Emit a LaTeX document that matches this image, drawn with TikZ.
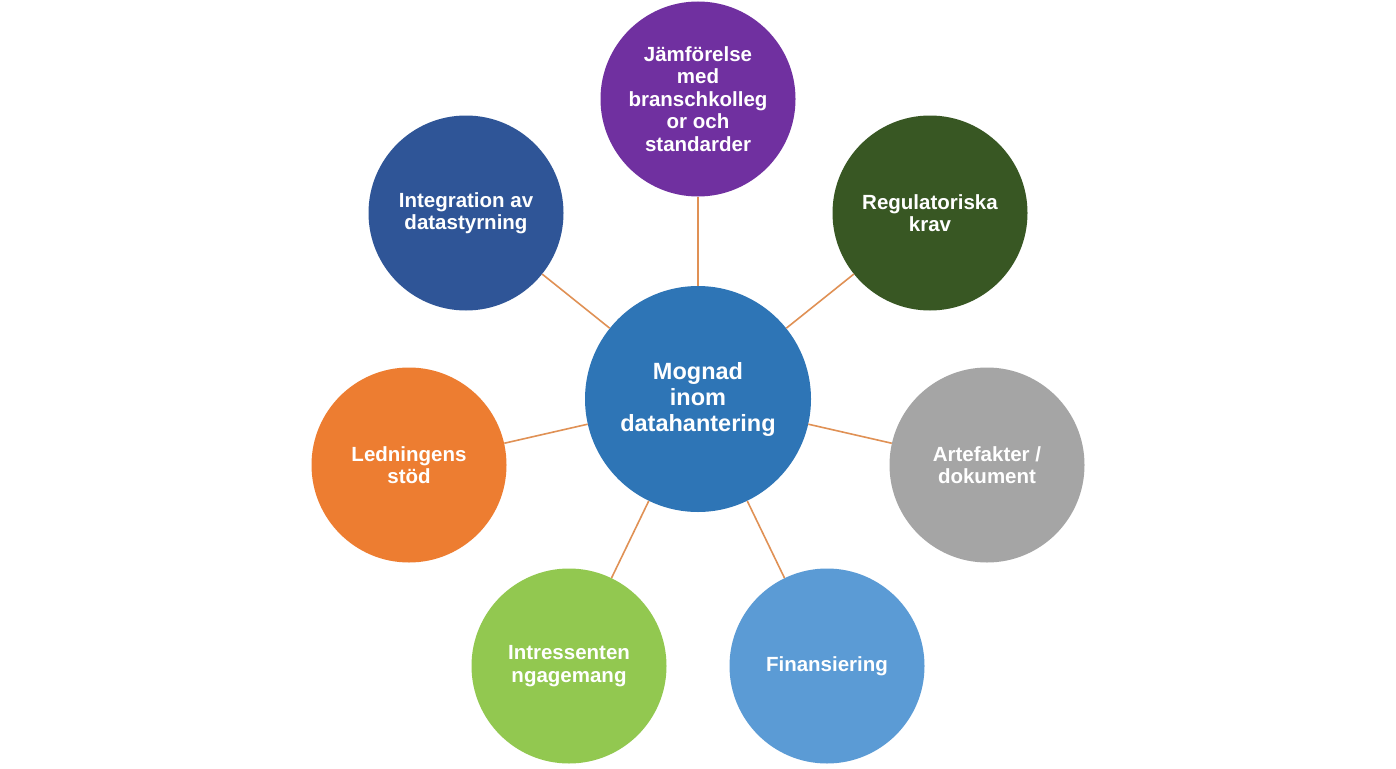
\documentclass[tikz,border=0pt]{standalone}
\usepackage{fontspec}
\setmainfont{Liberation Sans}
\definecolor{cmain}{RGB}{46,117,182}
\definecolor{cpurple}{RGB}{112,48,160}
\definecolor{cdblue}{RGB}{47,85,151}
\definecolor{cdgreen}{RGB}{56,87,35}
\definecolor{cgray}{RGB}{165,165,165}
\definecolor{corange}{RGB}{237,125,49}
\definecolor{clgreen}{RGB}{146,200,80}
\definecolor{clblue}{RGB}{91,155,213}
\definecolor{cline}{RGB}{224,145,85}
\begin{document}
\begin{tikzpicture}[x=1pt,y=-1pt,
  bubble/.style={circle,inner sep=0pt,minimum size=195pt,fill=#1,text=white,align=center,
    font=\fontsize{20.5}{22.5}\selectfont\bfseries},
  hub/.style={circle,inner sep=0pt,minimum size=226pt,fill=cmain,text=white,align=center,
    font=\fontsize{23.5}{26}\selectfont\bfseries},
  spoke/.style={draw=cline,line width=1.6pt}]
\useasboundingbox (0,0) rectangle (1396,768);
\fill[white] (0,0) rectangle (1396,768);
\node[hub] (c) at (698,399) {Mognad\\inom\\datahantering};
\node[bubble=cpurple] (n1) at (698,99) {Jämförelse\\med\\branschkolleg\\or och\\standarder};
\node[bubble=cdgreen] (n2) at (930,213) {Regulatoriska\\krav};
\node[bubble=cgray] (n3) at (987,465) {Artefakter /\\dokument};
\node[bubble=clblue] (n4) at (827,666) {Finansiering};
\node[bubble=clgreen] (n5) at (569,666) {Intressenten\\ngagemang};
\node[bubble=corange] (n6) at (409,465) {Ledningens\\stöd};
\node[bubble=cdblue] (n7) at (466,213) {Integration av\\datastyrning};
\foreach \n in {n1,n2,n3,n4,n5,n6,n7} \draw[spoke] (c) -- (\n);
\end{tikzpicture}
\end{document}
